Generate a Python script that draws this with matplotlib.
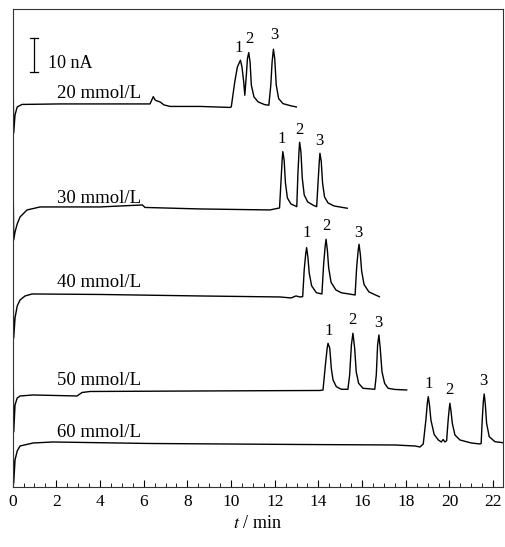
import matplotlib
matplotlib.use("Agg")
import matplotlib.pyplot as plt
from matplotlib.ticker import MultipleLocator

plt.rcParams["font.family"] = ["Liberation Serif", "DejaVu Serif"]
plt.rcParams["mathtext.fontset"] = "stix"

# electropherograms: time (min) and detector signal
# (arbitrary units, each trace already stacked at its own offset)
t20 = [0.01, 0.03, 0.05, 0.11, 0.21, 0.43, 2.17, 4.0, 6.29, 6.44, 6.52, 6.61,
       6.75, 6.93, 7.21, 8.58, 9.95, 10.01, 10.17, 10.29, 10.43, 10.50, 10.58,
       10.63, 10.70, 10.75, 10.81, 10.87, 10.93, 11.05, 11.24, 11.54, 11.73,
       11.82, 11.88, 11.94, 12.00, 12.07, 12.18, 12.38, 12.76, 12.99]
i20 = [383, 392, 354, 372, 380, 382.5, 383, 383, 383, 390.3, 387, 386,
       385, 382, 380.5, 380.5, 379.5, 380, 405, 420, 426.7, 420, 405,
       391.7, 411.7, 428.3, 434.3, 425, 401.7, 390, 385, 382.3, 381.7,
       401.7, 425, 437.7, 428.3, 401.7, 388.3, 383.3, 381, 380]

t30 = [0.01, 0.03, 0.05, 0.11, 0.21, 0.34, 0.66, 1.26, 4.0, 5.94, 6.06, 8.58,
       11.78, 12.22, 12.29, 12.34, 12.37, 12.43, 12.49, 12.58, 12.74, 13.01,
       13.06, 13.11, 13.14, 13.20, 13.26, 13.35, 13.51, 13.78, 13.92,
       13.99, 14.04, 14.07, 14.13, 14.19, 14.28, 14.44, 14.71, 15.32]
i30 = [272, 290, 247, 255, 263, 270, 277, 280, 280, 282, 279.5, 278,
       277, 279, 307, 327, 335.3, 327, 304, 289, 283, 280.3,
       312.5, 335, 344.7, 335, 309, 292, 285, 281.5, 280.3,
       307, 325.5, 333.7, 325.5, 304, 290, 284, 281, 278.7]

t40 = [0.01, 0.03, 0.05, 0.11, 0.21, 0.34, 0.57, 0.89, 4.0, 8.58, 12.24, 12.75,
       12.97, 13.16, 13.28, 13.35, 13.42, 13.46, 13.52, 13.58, 13.69, 13.91,
       14.16, 14.24, 14.31, 14.35, 14.41, 14.47, 14.58, 14.80, 15.05, 15.68,
       15.75, 15.82, 15.86, 15.92, 15.98, 16.09, 16.31, 16.56, 16.79]
i40 = [187, 185, 149, 169, 181, 187, 191, 193, 192.5, 191, 190, 189,
       191, 190, 190.3, 217.3, 233.4, 239.3, 229.5, 213.8, 201.1, 194.2,
       193, 222.9, 241, 247.7, 236.7, 219, 204.6, 197, 194.2, 192,
       219.4, 236.5, 242.7, 232.4, 215.8, 202.4, 195.1, 192.5, 190.3]

t50 = [0.01, 0.03, 0.05, 0.11, 0.21, 0.34, 0.94, 2.95, 3.18, 3.55, 8.58, 14.07,
       14.21, 14.32, 14.40, 14.44, 14.52, 14.59, 14.67, 14.82, 15.05, 15.35,
       15.43, 15.51, 15.58, 15.66, 15.73, 15.84, 16.04, 16.58,
       16.65, 16.71, 16.77, 16.83, 16.91, 17.03, 17.19, 17.51, 18.04]
i50 = [92, 105, 55, 82, 89, 91, 92, 91, 94.5, 95.5, 96, 96.5,
       97, 122, 138.7, 143.7, 138.7, 118.7, 107, 100.3, 97.7, 97.7,
       112, 142, 153.7, 138.7, 115.3, 103.7, 98.7, 97.7,
       112, 142, 152, 138.7, 115.3, 103.7, 98.7, 97.5, 97]

t60 = [0.01, 0.03, 0.05, 0.11, 0.21, 0.34, 0.94, 1.85, 6.29, 13.16, 17.51, 18.42,
       18.65, 18.80, 18.92, 18.99, 19.03, 19.09, 19.15, 19.30, 19.49, 19.63,
       19.71, 19.79, 19.87, 19.94, 19.99, 20.02, 20.07, 20.13, 20.25, 20.48,
       21.00, 21.40, 21.45, 21.50, 21.55, 21.59, 21.64, 21.70, 21.82, 22.08,
       22.45]
i60 = [35, 40, 4, 27, 36, 41, 44, 45, 43.5, 42.5, 42, 41,
       40, 43, 67, 84.6, 90.3, 81.1, 67, 52.5, 47, 45,
       47.5, 45, 46.3, 67, 78.5, 83.7, 76, 63.7, 52, 47,
       44, 43, 43.5, 67, 85.5, 93, 83, 63.7, 50.3, 45.3,
       44.3]

traces = [(t20, i20), (t30, i30), (t40, i40), (t50, i50), (t60, i60)]
conc_labels = ["20 mmol/L", "30 mmol/L", "40 mmol/L", "50 mmol/L", "60 mmol/L"]
label_y = [389, 284, 200, 102, 50]

# peak numbers (time, signal) for each trace
peak_t = [[10.33, 10.82, 11.97], [12.32, 13.11, 14.03], [13.46, 14.35, 15.83],
          [14.45, 15.57, 16.74], [19.03, 19.98, 21.55]]
peak_y = [[435, 444, 448], [344, 353, 342], [250, 257, 250],
          [152, 163, 160], [99, 93, 102]]

fig = plt.figure(figsize=(5.05, 5.47), dpi=100)
ax = fig.add_axes([0.025, 0.1097, 0.971, 0.874])

for (t, i), lab, ly, pts, pys in zip(traces, conc_labels, label_y, peak_t, peak_y):
    ax.plot(t, i, color="black", lw=1.0, solid_joinstyle="round")
    ax.text(2.04, ly, lab, fontsize=13.5, ha="left", va="baseline")
    for n, (px, py) in enumerate(zip(pts, pys), start=1):
        ax.text(px, py, str(n), fontsize=12, ha="center", va="baseline")

# 10 nA scale bar
ax.plot([0.98, 0.98], [415, 449], color="black", lw=0.9)
ax.plot([0.81, 1.15], [415, 415], color="black", lw=0.9)
ax.plot([0.81, 1.15], [449, 449], color="black", lw=0.9)
ax.text(1.62, 419, "10 nA", fontsize=13, ha="left", va="baseline")

ax.set_xlim(0, 22.45)
ax.set_ylim(0, 478)
ax.set_xticks(range(0, 23, 2))
ax.xaxis.set_minor_locator(MultipleLocator(0.5))
ax.set_yticks([])
ax.tick_params(axis="x", which="major", direction="in", length=5, width=0.8,
               labelsize=12.5, pad=5)
ax.tick_params(axis="x", which="minor", direction="in", length=3, width=0.6)
for s in ax.spines.values():
    s.set_linewidth(0.8)
    s.set_color("#333333")
ax.set_xlabel("$t$ / min", fontsize=13, labelpad=4)

fig.savefig("out.png", dpi=100)
